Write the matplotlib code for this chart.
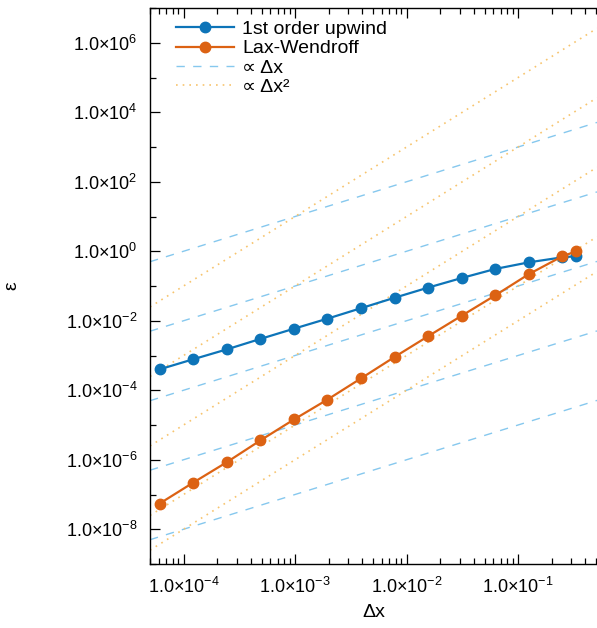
import numpy as np
import matplotlib
matplotlib.use('Agg')
import matplotlib.pyplot as plt
from matplotlib.ticker import FixedLocator, FuncFormatter, NullFormatter

plt.rcParams['font.family'] = ['Liberation Sans', 'DejaVu Sans']
plt.rcParams['mathtext.fontset'] = 'custom'
plt.rcParams['mathtext.rm'] = 'Liberation Sans'
plt.rcParams['mathtext.it'] = 'Liberation Sans:italic'

# grid spacing
dx = [6.1035e-05, 1.2207e-04, 2.4414e-04, 4.8828e-04, 9.7656e-04, 1.9531e-03,
      3.9063e-03, 7.8125e-03, 1.5625e-02, 3.125e-02, 6.25e-02, 0.125, 0.25, 0.3333]

# errors
upwind = [4.0e-4, 7.8e-4, 1.5e-3, 3.0e-3, 5.9e-3, 1.15e-2, 2.3e-2, 4.6e-2,
          9.0e-2, 0.17, 0.31, 0.48, 0.67, 0.72]
laxwendroff = [5.5e-8, 2.2e-7, 8.5e-7, 3.6e-6, 1.44e-5, 5.4e-5, 2.2e-4, 9.1e-4,
               3.6e-3, 1.4e-2, 5.4e-2, 0.22, 0.72, 1.0]

# reference lines: c*dx and c*dx^2
coef_dx = [1e4, 1e2, 1e0, 1e-2, 1e-4]
coef_dx2 = [1e7, 1e5, 1e3, 1e1, 1e0]

xlim = (5e-5, 5.1e-1)
ylim = (1e-9, 1e7)

blue = '#0d74b8'
orange = '#dc6213'
lblue = '#86c8ee'
lorange = '#f7c46e'

fig = plt.figure(figsize=(5.97, 6.28), dpi=100)
ax = fig.add_axes([150/597, 64/628, 447/597, 556/628])

xr = np.array(xlim)
for i, c in enumerate(coef_dx):
    ax.plot(xr, c * xr, color=lblue, lw=1.0, linestyle=(0, (6, 6)),
            label='∝ Δx' if i == 0 else None, zorder=1)
for i, c in enumerate(coef_dx2):
    ax.plot(xr, c * xr**2, color=lorange, lw=1.2, linestyle=(0, (1, 3)),
            label='∝ Δx²' if i == 0 else None, zorder=1)

ax.plot(dx, upwind, color=blue, lw=1.6, marker='o', ms=7.5,
        label='1st order upwind', zorder=3)
ax.plot(dx, laxwendroff, color=orange, lw=1.6, marker='o', ms=7.5,
        label='Lax-Wendroff', zorder=3)

ax.set_xscale('log')
ax.set_yscale('log')
ax.set_xlim(*xlim)
ax.set_ylim(*ylim)

def sci(v, pos):
    e = int(round(np.log10(v)))
    return r'$\mathrm{1.0{\times}10^{%d}}$' % e

ax.yaxis.set_major_locator(FixedLocator([10.0**k for k in range(-8, 8, 2)]))
ax.yaxis.set_minor_locator(FixedLocator([10.0**k for k in range(-9, 8, 2)]))
ax.xaxis.set_major_locator(FixedLocator([1e-4, 1e-3, 1e-2, 1e-1]))
ax.xaxis.set_minor_locator(FixedLocator([m * 10.0**k for k in range(-5, 0) for m in range(2, 10)]))
ax.yaxis.set_major_formatter(FuncFormatter(sci))
ax.xaxis.set_major_formatter(FuncFormatter(sci))
ax.yaxis.set_minor_formatter(NullFormatter())
ax.xaxis.set_minor_formatter(NullFormatter())

ax.tick_params(which='both', direction='in', top=True, right=False,
               labelsize=13, width=0.9)
ax.tick_params(which='major', length=7, pad=9)
ax.tick_params(which='minor', length=4)
ax.spines['right'].set_visible(False)
for s in ['left', 'bottom', 'top']:
    ax.spines[s].set_linewidth(1.0)

ax.set_xlabel('Δx', fontsize=14)
ax.set_ylabel('ε', fontsize=14)
ax.xaxis.set_label_coords(0.5, -0.072)
ax.yaxis.set_label_coords(-0.29, 0.5)

h, l = ax.get_legend_handles_labels()
order = [2, 3, 0, 1]
ax.legend([h[i] for i in order], [l[i] for i in order], loc='upper left',
          bbox_to_anchor=(0.03, 1.0), frameon=False, fontsize=14,
          handlelength=3.0, handletextpad=0.4, labelspacing=0.08,
          borderaxespad=0.25)

fig.savefig('out.png', dpi=100)
